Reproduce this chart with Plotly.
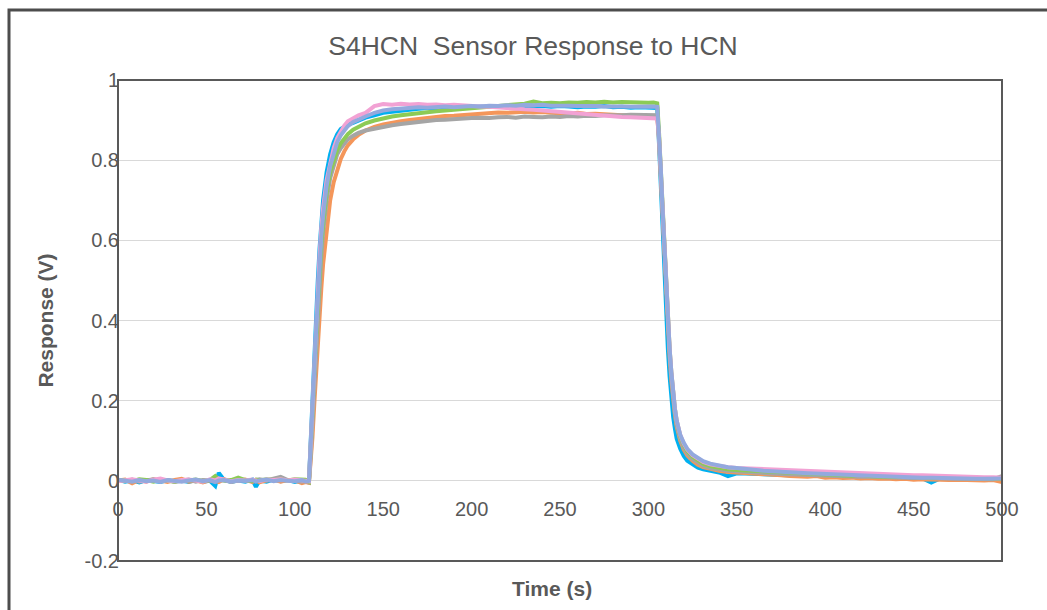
import plotly.graph_objects as go

# Time points (s)
TIME = ([0, 4, 8, 12, 16, 20, 24, 28, 32, 36, 40, 44, 48, 52, 55, 57, 60, 64, 68, 72, 76, 78, 80, 84, 88, 92, 96, 100, 104, 106, 108]
        + [109, 110, 111, 112, 113, 114, 115, 116, 118, 120, 122, 124, 126, 128, 130, 133, 136, 140, 145, 150, 155, 160, 165, 170, 175, 180, 185, 190, 195]
        + [200, 205, 210, 215, 220, 225, 230, 235, 240, 245, 250, 255, 260, 265, 270, 275, 280, 285, 290, 295, 300, 303, 305]
        + [306, 307, 308, 309, 310, 311, 312, 313, 314, 315, 316, 318, 320, 322, 325, 328, 331, 335, 340, 345]
        + [350, 355, 360, 365, 370, 375, 380, 385, 390, 395, 400, 405, 410, 415, 420, 425, 430, 435, 440, 445, 450, 455, 460, 465, 470, 475, 480, 485, 490, 495, 500])

BLUE = ([0.003, -0.002, 0.001, -0.004, 0.002, 0.000, -0.003, 0.002, -0.001, 0.001, -0.003, 0.002, -0.002, 0.000, -0.013, 0.020, 0.002, -0.003, 0.001, -0.002, 0.003, -0.015, 0.001, -0.002, 0.003, -0.001, 0.002, -0.003, 0.001, -0.002, -0.004]
        + [0.10, 0.21, 0.31, 0.41, 0.50, 0.58, 0.65, 0.70, 0.77, 0.815, 0.845, 0.865, 0.878, 0.884, 0.889, 0.893, 0.899, 0.906, 0.912, 0.918, 0.921, 0.924, 0.926, 0.928, 0.930, 0.929, 0.932, 0.931, 0.933]
        + [0.932, 0.934, 0.933, 0.935, 0.933, 0.934, 0.936, 0.934, 0.935, 0.933, 0.935, 0.934, 0.932, 0.934, 0.933, 0.935, 0.932, 0.933, 0.931, 0.932, 0.930, 0.931, 0.930]
        + [0.84, 0.73, 0.62, 0.51, 0.41, 0.33, 0.26, 0.20, 0.16, 0.13, 0.105, 0.08, 0.062, 0.05, 0.04, 0.033, 0.029, 0.025, 0.021, 0.012]
        + [0.019, 0.018, 0.017, 0.016, 0.015, 0.016, 0.013, 0.014, 0.012, 0.013, 0.011, 0.012, 0.010, 0.011, 0.009, 0.010, 0.008, 0.009, 0.008, 0.007, 0.008, 0.006, -0.004, 0.006, 0.005, 0.006, 0.004, 0.005, 0.004, 0.003, 0.005])

ORANGE = ([0.001, 0.003, -0.006, 0.002, -0.002, 0.004, 0.001, -0.003, 0.002, 0.005, -0.002, 0.001, -0.004, 0.002, 0.001, -0.003, 0.004, -0.002, 0.001, 0.003, -0.003, 0.002, -0.004, 0.001, 0.003, -0.002, 0.002, 0.001, -0.006, -0.003, -0.005]
          + [0.04, 0.11, 0.19, 0.27, 0.35, 0.42, 0.48, 0.54, 0.63, 0.70, 0.745, 0.778, 0.803, 0.822, 0.837, 0.852, 0.863, 0.874, 0.883, 0.889, 0.894, 0.897, 0.900, 0.903, 0.906, 0.907, 0.910, 0.911, 0.913]
          + [0.914, 0.916, 0.917, 0.919, 0.918, 0.920, 0.921, 0.919, 0.920, 0.918, 0.917, 0.916, 0.918, 0.915, 0.916, 0.914, 0.913, 0.912, 0.911, 0.912, 0.910, 0.911, 0.910]
          + [0.85, 0.76, 0.66, 0.56, 0.46, 0.38, 0.31, 0.25, 0.20, 0.165, 0.135, 0.10, 0.078, 0.063, 0.05, 0.04, 0.034, 0.029, 0.025, 0.022]
          + [0.021, 0.019, 0.018, 0.016, 0.015, 0.014, 0.012, 0.011, 0.010, 0.012, 0.008, 0.009, 0.007, 0.008, 0.006, 0.007, 0.005, 0.006, 0.004, 0.005, 0.003, 0.004, 0.003, 0.004, 0.002, 0.003, 0.002, 0.003, 0.001, 0.002, -0.003])

GRAY = ([0.002, -0.001, 0.003, -0.002, 0.001, 0.004, -0.001, 0.002, -0.003, 0.001, 0.003, -0.002, 0.002, 0.001, -0.002, 0.003, 0.001, -0.002, 0.003, 0.001, -0.001, 0.002, 0.004, 0.001, 0.006, 0.010, 0.002, 0.001, -0.002, 0.001, -0.003]
        + [0.06, 0.15, 0.24, 0.33, 0.42, 0.50, 0.56, 0.62, 0.70, 0.755, 0.79, 0.815, 0.83, 0.843, 0.852, 0.861, 0.868, 0.874, 0.879, 0.883, 0.887, 0.890, 0.893, 0.896, 0.898, 0.900, 0.901, 0.903, 0.904]
        + [0.905, 0.906, 0.905, 0.907, 0.908, 0.906, 0.909, 0.908, 0.907, 0.909, 0.908, 0.910, 0.909, 0.911, 0.910, 0.912, 0.911, 0.912, 0.913, 0.912, 0.913, 0.912, 0.912]
        + [0.86, 0.77, 0.67, 0.57, 0.47, 0.39, 0.32, 0.26, 0.21, 0.17, 0.14, 0.105, 0.083, 0.068, 0.054, 0.045, 0.038, 0.032, 0.028, 0.025]
        + [0.024, 0.022, 0.021, 0.019, 0.018, 0.017, 0.016, 0.015, 0.014, 0.013, 0.013, 0.012, 0.011, 0.011, 0.010, 0.010, 0.009, 0.009, 0.008, 0.008, 0.007, 0.007, 0.006, 0.006, 0.006, 0.005, 0.005, 0.005, 0.004, 0.004, 0.012])

GREEN = ([0.001, 0.002, -0.001, 0.004, 0.002, -0.002, 0.003, 0.001, -0.002, 0.002, 0.001, 0.003, -0.001, 0.002, 0.012, 0.004, 0.001, 0.002, 0.008, 0.002, -0.001, 0.003, 0.001, 0.004, 0.002, 0.003, 0.001, 0.004, 0.002, 0.003, -0.002]
         + [0.07, 0.17, 0.27, 0.36, 0.45, 0.53, 0.59, 0.64, 0.72, 0.77, 0.80, 0.825, 0.842, 0.855, 0.865, 0.876, 0.884, 0.892, 0.899, 0.905, 0.909, 0.912, 0.915, 0.918, 0.920, 0.922, 0.924, 0.926, 0.928]
         + [0.930, 0.931, 0.933, 0.935, 0.937, 0.939, 0.941, 0.946, 0.942, 0.943, 0.942, 0.944, 0.943, 0.945, 0.944, 0.946, 0.944, 0.945, 0.944, 0.945, 0.943, 0.944, 0.942]
         + [0.87, 0.78, 0.68, 0.58, 0.48, 0.40, 0.33, 0.27, 0.22, 0.18, 0.15, 0.112, 0.09, 0.074, 0.06, 0.05, 0.043, 0.037, 0.032, 0.029]
         + [0.027, 0.026, 0.024, 0.023, 0.021, 0.020, 0.019, 0.018, 0.017, 0.016, 0.015, 0.014, 0.014, 0.013, 0.016, 0.012, 0.011, 0.011, 0.010, 0.010, 0.009, 0.009, 0.008, 0.008, 0.008, 0.007, 0.007, 0.006, 0.006, 0.006, 0.005])

PINK = ([-0.001, 0.002, 0.004, 0.001, -0.002, 0.003, 0.006, 0.001, -0.001, 0.002, 0.003, 0.001, -0.002, 0.004, 0.001, 0.006, 0.003, -0.001, 0.002, 0.001, 0.003, 0.002, -0.001, 0.003, 0.002, 0.004, 0.001, 0.003, 0.002, 0.001, -0.001]
        + [0.09, 0.19, 0.29, 0.39, 0.48, 0.56, 0.63, 0.68, 0.75, 0.795, 0.83, 0.855, 0.872, 0.886, 0.897, 0.906, 0.912, 0.918, 0.935, 0.940, 0.938, 0.941, 0.939, 0.940, 0.938, 0.939, 0.937, 0.938, 0.936]
        + [0.935, 0.934, 0.933, 0.931, 0.930, 0.928, 0.927, 0.926, 0.924, 0.923, 0.921, 0.920, 0.918, 0.916, 0.914, 0.912, 0.910, 0.908, 0.907, 0.906, 0.905, 0.904, 0.904]
        + [0.86, 0.77, 0.67, 0.57, 0.48, 0.40, 0.33, 0.27, 0.22, 0.18, 0.15, 0.115, 0.093, 0.078, 0.064, 0.054, 0.047, 0.041, 0.037, 0.034]
        + [0.032, 0.031, 0.030, 0.029, 0.028, 0.027, 0.027, 0.026, 0.025, 0.024, 0.023, 0.022, 0.021, 0.020, 0.019, 0.018, 0.017, 0.017, 0.016, 0.015, 0.014, 0.014, 0.013, 0.012, 0.012, 0.011, 0.010, 0.010, 0.009, 0.009, 0.008])

LAVENDER = ([0.003, 0.000, -0.002, 0.002, -0.001, 0.001, -0.003, 0.002, 0.000, -0.002, 0.001, 0.003, -0.001, 0.002, -0.003, 0.001, 0.002, -0.002, 0.001, 0.000, 0.002, -0.002, 0.001, 0.003, -0.001, 0.002, 0.000, -0.001, 0.002, -0.002, 0.000]
            + [0.08, 0.18, 0.28, 0.37, 0.46, 0.54, 0.61, 0.66, 0.735, 0.785, 0.82, 0.845, 0.862, 0.875, 0.885, 0.895, 0.902, 0.909, 0.918, 0.924, 0.927, 0.929, 0.930, 0.932, 0.931, 0.933, 0.934, 0.932, 0.934]
            + [0.935, 0.934, 0.936, 0.935, 0.937, 0.936, 0.938, 0.937, 0.938, 0.936, 0.937, 0.936, 0.935, 0.936, 0.935, 0.934, 0.935, 0.934, 0.933, 0.934, 0.933, 0.934, 0.933]
            + [0.87, 0.78, 0.68, 0.58, 0.49, 0.40, 0.33, 0.27, 0.22, 0.18, 0.15, 0.115, 0.095, 0.08, 0.066, 0.056, 0.049, 0.043, 0.038, 0.034]
            + [0.032, 0.029, 0.027, 0.025, 0.024, 0.022, 0.021, 0.020, 0.019, 0.018, 0.017, 0.016, 0.015, 0.014, 0.013, 0.012, 0.012, 0.011, 0.010, 0.010, 0.009, 0.008, 0.008, 0.007, 0.007, 0.006, 0.006, 0.005, 0.005, 0.005, 0.006])

SERIES = [("Sensor 1", BLUE, "#00B0F0"),
          ("Sensor 2", ORANGE, "#F4965A"),
          ("Sensor 3", GRAY, "#A5A5A5"),
          ("Sensor 4", GREEN, "#8CCB55"),
          ("Sensor 5", PINK, "#F2A2D4"),
          ("Sensor 6", LAVENDER, "#93A9DE")]

Y_TICKS = [-0.2, 0, 0.2, 0.4, 0.6, 0.8, 1]
Y_TICK_TEXT = ["-0.2", "0", "0.2", "0.4", "0.6", "0.8", "1"]
X_TICKS = [0, 50, 100, 150, 200, 250, 300, 350, 400, 450, 500]

FONT = "Liberation Sans, Arial, sans-serif"
TXT = "#595959"

fig = go.Figure()
for name, vals, col in SERIES:
    assert len(vals) == len(TIME), name
    fig.add_trace(go.Scatter(x=TIME, y=vals, mode="lines", name=name,
                             line=dict(color=col, width=4), showlegend=False))

W, H = 1047, 610
L, R, T, B = 118, 45, 80, 49
pw, ph = W - L - R, H - T - B

fig.update_layout(
    width=W, height=H,
    margin=dict(l=L, r=R, t=T, b=B),
    paper_bgcolor="white", plot_bgcolor="white",
    font=dict(family=FONT, color=TXT),
    title=dict(text="S4HCN  Sensor Response to HCN", font=dict(size=26.5, color=TXT),
               x=533 / W, xref="container", xanchor="center",
               y=1 - 46 / H, yref="container", yanchor="middle"),
    xaxis=dict(range=[0, 500], tickvals=X_TICKS, showgrid=False, zeroline=False,
               showline=False, anchor="free", position=(0 - (-0.2)) / 1.2,
               tickfont=dict(size=20, color=TXT), ticks="", ticklabelstandoff=14),
    yaxis=dict(range=[-0.2, 1], tickvals=Y_TICKS, ticktext=Y_TICK_TEXT,
               showgrid=True, gridcolor="#D9D9D9", gridwidth=1.3, zeroline=False,
               showline=False, ticks="", tickfont=dict(size=20, color=TXT),
               ticklabelstandoff=-2,
               title=dict(text="<b>Response (V)</b>", font=dict(size=21, color=TXT), standoff=25)),
    shapes=[
        dict(type="rect", xref="paper", yref="paper", x0=0, x1=1, y0=0, y1=1,
             line=dict(color="#595959", width=2), layer="above"),
        dict(type="rect", xref="paper", yref="paper",
             x0=(9 - L) / pw, x1=(W + 20 - L) / pw,
             y0=-(H + 20 - (T + ph)) / ph, y1=1 + (T - 10) / ph,
             line=dict(color="#4D4D4D", width=3), layer="above"),
    ],
    annotations=[
        dict(text="<b>Time (s)</b>", xref="paper", yref="paper", x=(552 - L) / pw,
             y=-(588 - (T + ph)) / ph, xanchor="center", yanchor="middle",
             showarrow=False, font=dict(size=21, color=TXT)),
    ],
)

fig.write_html("out.html", config={"displayModeBar": False},
               post_script="document.body.style.margin='0';document.body.style.overflow='hidden';")
